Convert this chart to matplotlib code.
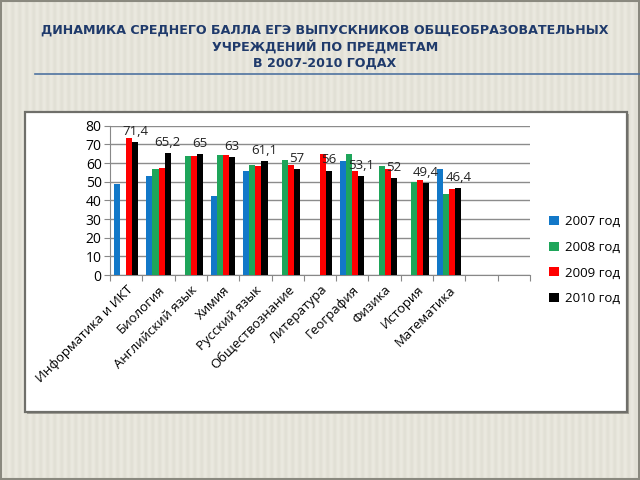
import matplotlib
matplotlib.use("Agg")
import matplotlib.pyplot as plt
from matplotlib.patches import Rectangle
from matplotlib.lines import Line2D
import numpy as np

plt.rcParams['font.family'] = ['Open Sans', 'DejaVu Sans']

subjects = ["Информатика и ИКТ", "Биология", "Английский язык", "Химия",
            "Русский язык", "Обществознание", "Литература", "География",
            "Физика", "История", "Математика"]
years = ["2007 год", "2008 год", "2009 год", "2010 год"]
nan = np.nan
y2007 = [49.0, 52.9, nan, 42.4, 55.8, nan, nan, 61.1, nan, nan, 56.7]
y2008 = [nan, 56.7, 63.6, 64.1, 59.2, 61.8, nan, 65.0, 58.4, 50.1, 43.3]
y2009 = [73.6, 57.2, 63.6, 64.1, 58.4, 58.8, 65.0, 55.8, 57.0, 50.8, 46.0]
y2010 = [71.4, 65.2, 65.0, 63.0, 61.1, 57.0, 56.0, 53.1, 52.0, 49.4, 46.4]
labels_2010 = ["71,4", "65,2", "65", "63", "61,1", "57", "56", "53,1", "52", "49,4", "46,4"]
colors = ["#1278c8", "#1ea55a", "#ff0000", "#000000"]

fig = plt.figure(figsize=(6.4, 4.8), dpi=100)
fig.patch.set_facecolor("#e2dfd1")

# beige slide background with soft vertical stripes
bg = fig.add_axes([0, 0, 1, 1], zorder=-10)
cols = np.arange(640)
stripe = 0.5 + 0.5 * np.sin(cols * 2 * np.pi / 7.0)
base = np.array([0.885, 0.878, 0.835])
light = np.array([0.920, 0.914, 0.878])
row = base[None, :] + (light - base)[None, :] * stripe[:, None]
img = np.tile(row[None, :, :], (2, 1, 1))
bg.imshow(img, aspect="auto", extent=[0, 1, 0, 1])
bg.set_axis_off()
fig.add_artist(Rectangle((0.002, 0.003), 0.996, 0.994, fill=False, edgecolor="#8a897f",
                         lw=1.5, transform=fig.transFigure, zorder=0))

# title
fig.text(0.508, 0.950, "ДИНАМИКА СРЕДНЕГО БАЛЛА ЕГЭ ВЫПУСКНИКОВ ОБЩЕОБРАЗОВАТЕЛЬНЫХ\n"
         "УЧРЕЖДЕНИЙ ПО ПРЕДМЕТАМ\nВ 2007-2010 ГОДАХ",
         ha="center", va="top", fontsize=9.1, fontweight="bold", color="#1f3a6b",
         family=["DejaVu Sans"], linespacing=1.25)
fig.add_artist(Line2D([0.055, 1.0], [0.846, 0.846], color="#4f73a0", lw=1.2))

# white chart box
fig.add_artist(Rectangle((0.042, 0.138), 0.941, 0.625, facecolor="#a3a197",
                         edgecolor="none", transform=fig.transFigure, zorder=0))
fig.add_artist(Rectangle((0.039, 0.142), 0.941, 0.625, facecolor="white",
                         edgecolor="#6f6f6a", lw=1.6, transform=fig.transFigure, zorder=1))

ax = fig.add_axes([0.172, 0.427, 0.656, 0.311], zorder=2)
ax.set_facecolor("none")

x = np.arange(len(subjects))
w = 0.1875
series = [y2007, y2008, y2009, y2010]
for i, (vals, c, lab) in enumerate(zip(series, colors, years)):
    ax.bar(x + (i - 1.5) * w, vals, w, color=c, label=lab, zorder=3)

for xi, v, t in zip(x, y2010, labels_2010):
    ax.annotate(t, xy=(xi + 1.5 * w, v), xytext=(0, 3), textcoords="offset points",
                ha="center", va="bottom", fontsize=9.5, color="#222222", zorder=5)

ax.set_ylim(0, 80)
ax.set_yticks(range(0, 81, 10))
ax.set_xlim(-0.5, 12.5)
ax.set_xticks(np.arange(-0.5, 13, 1))
ax.set_xticklabels([])
ax.set_xticks(x, minor=True)
ax.set_xticklabels(subjects, minor=True, rotation=45, ha="right",
                   rotation_mode="anchor", fontsize=9.5)
ax.tick_params(axis="x", which="minor", length=0, pad=6)
ax.tick_params(axis="x", which="major", length=4, color="#888888")
ax.tick_params(axis="y", length=4, color="#888888", labelsize=10, pad=2)
ax.grid(axis="y", color="#8c8c8c", lw=1, zorder=0)
for s in ["top", "right"]:
    ax.spines[s].set_visible(False)
ax.spines["left"].set_color("#888888")
ax.spines["bottom"].set_color("#888888")

ax.legend(loc="center left", bbox_to_anchor=(0.84, 0.458), bbox_transform=fig.transFigure,
          frameon=False, fontsize=9.5, handlelength=0.7, handleheight=0.7,
          handletextpad=0.5, labelspacing=0.95)

fig.savefig("out.png", dpi=100)
